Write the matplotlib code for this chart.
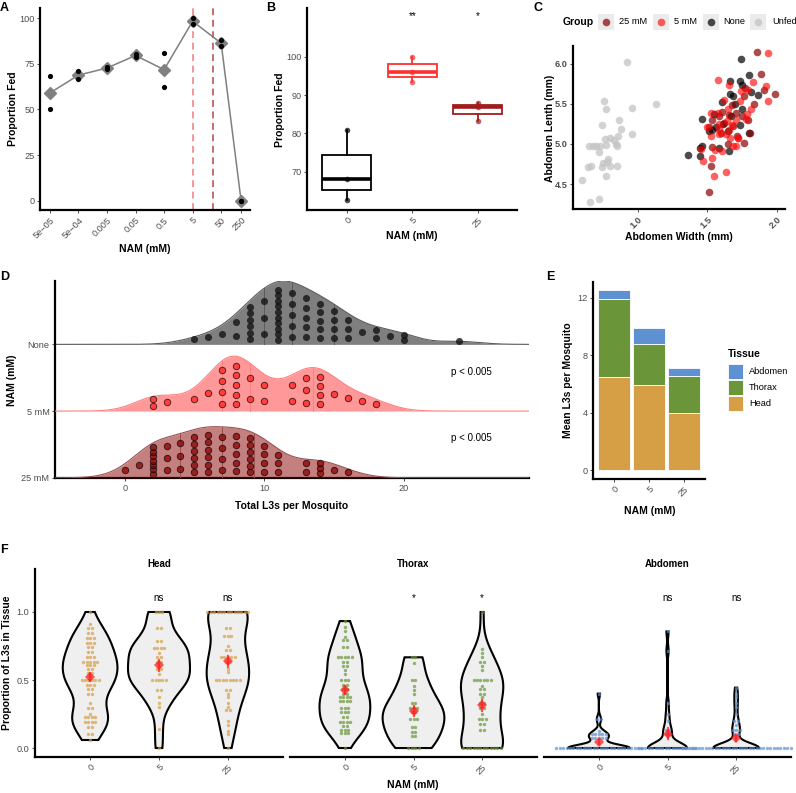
import numpy as np
import matplotlib
matplotlib.use('Agg')
import matplotlib.pyplot as plt
from matplotlib.patches import Rectangle

plt.rcParams['font.family'] = ['Liberation Sans', 'DejaVu Sans']
plt.rcParams['axes.unicode_minus'] = True

# ---------------- DATA ----------------
# Panel A
nam_conc = [5e-05, 5e-04, 0.005, 0.05, 0.5, 5, 50, 250]
nam_labels = ['5e\u221205', '5e\u221204', '0.005', '0.05', '0.5', '5', '50', '250']
fed_rep1 = [68, 71, 73, 80.5, 81, 100, 88, 0]
fed_rep2 = [50, 66.5, 72.3, 78.5, 62.5, 96.5, 84.5, 0]
dose_lines = [5, 25]

# Panel B
b_groups = ['0', '5', '25']
b_vals = [[62.6, 68, 80.9], [93.4, 96.1, 100], [83.3, 86.8, 88]]
b_sig = ['', '**', '*']

# Panel C  (abdomen width, abdomen length)
unfed_w = [0.924, 1.131, 0.755, 0.771, 0.957, 0.867, 0.743, 0.883, 0.96, 0.86, 0.805, 0.769, 0.83, 0.843,
           0.776, 0.733, 0.70, 0.65, 0.68, 0.85, 0.724, 0.786, 0.748, 0.781, 0.855, 0.664, 0.645, 0.745,
           0.80, 0.774, 0.602, 0.66, 0.726]
unfed_l = [6.025, 5.5, 5.53, 5.44, 5.45, 5.30, 5.24, 5.19, 5.13, 5.10, 5.08, 5.06, 5.05, 5.0,
           4.99, 4.97, 4.98, 4.97, 4.98, 4.98, 4.90, 4.81, 4.76, 4.78, 4.73, 4.73, 4.71, 4.71,
           4.72, 4.60, 4.55, 4.28, 4.31]
none_w = [1.738, 1.798, 1.662, 1.731, 1.664, 1.686, 1.864, 1.605, 1.695, 1.548, 1.46, 1.667, 1.614, 1.733,
          1.80, 1.564, 1.512, 1.464, 1.45, 1.586, 1.655, 1.362, 1.445, 1.75, 1.81, 1.75, 1.645, 1.53]
none_l = [6.06, 5.86, 5.79, 5.78, 5.62, 5.60, 5.61, 5.52, 5.50, 5.375, 5.31, 5.35, 5.25, 5.23,
          5.14, 5.21, 5.16, 4.98, 4.95, 4.95, 4.91, 4.86, 4.85, 5.43, 5.65, 5.73, 5.16, 5.18]
mm5_w = [1.933, 1.574, 1.655, 1.831, 1.919, 1.743, 1.788, 1.938, 1.617, 1.731, 1.814, 1.65, 1.526, 1.574,
         1.707, 1.64, 1.583, 1.50, 1.655, 1.583, 1.662, 1.721, 1.631, 1.707, 1.72, 1.457, 1.555, 1.607,
         1.536, 1.471, 1.55, 1.636, 1.686, 1.774, 1.786, 1.581, 1.679, 1.524]
mm5_l = [6.13, 5.80, 5.73, 5.77, 5.72, 5.66, 5.67, 5.54, 5.55, 5.53, 5.43, 5.43, 5.39, 5.38,
         5.30, 5.28, 5.25, 5.21, 5.18, 5.12, 5.08, 5.08, 5.13, 4.98, 5.07, 4.94, 4.93, 4.91,
         4.83, 4.79, 4.60, 4.65, 4.97, 5.31, 5.375, 5.19, 5.24, 5.10]
mm25_w = [1.855, 1.883, 1.907, 1.983, 1.769, 1.833, 1.762, 1.607, 1.679, 1.745, 1.793, 1.683, 1.621,
          1.512, 1.536, 1.595, 1.805, 1.762, 1.645, 1.531, 1.529, 1.512, 1.714, 1.655, 1.702, 1.583]
mm25_l = [6.15, 5.87, 5.67, 5.62, 5.70, 5.50, 5.60, 5.40, 5.48, 5.35, 5.30, 5.22, 5.26,
          5.21, 5.30, 5.14, 5.14, 5.01, 5.0, 4.96, 4.73, 4.40, 5.10, 5.36, 5.39, 5.35]

# Panel D  (total L3s per mosquito)
none_l3 = [5, 6, 7, 8, 8, 9, 9, 9, 9, 9, 9, 10, 10, 10, 11, 11, 11, 11, 11, 11, 11, 11, 11, 11,
           12, 12, 12, 12, 12, 13, 13, 13, 13, 13, 14, 14, 14, 14, 14, 15, 15, 15, 15, 16, 16, 16,
           17, 18, 18, 19, 20, 20, 24]
mm5_l3 = [2, 2, 3, 5, 6, 7, 7, 7, 7, 8, 8, 8, 8, 8, 9, 9, 10, 10, 12, 12, 13, 13, 13, 14, 14, 14, 14,
          15, 16, 17, 18]
mm25_l3 = [0, 1, 2, 2, 2, 2, 2, 2, 2, 3, 3, 3, 4, 4, 4, 5, 5, 5, 5, 5, 5, 6, 6, 6, 6, 6, 6, 7, 7, 7, 7,
           8, 8, 8, 8, 8, 9, 9, 9, 9, 9, 9, 10, 10, 10, 10, 11, 11, 11, 13, 13, 14, 14, 14, 15, 16]
d_labels = ['25 mM', '5 mM', 'None']
d_pvals = ['p < 0.005', 'p < 0.005', '']

# Panel E  (mean L3s per mosquito by tissue)
e_groups = ['0', '5', '25']
e_head = [6.45, 5.96, 4.01]
e_thorax = [5.45, 2.83, 2.51]
e_abdomen = [0.63, 1.09, 0.58]

# Panel F  (proportion of L3s in tissue)
head_0 = [1.0, 0.909, 0.889, 0.875, 0.857, 0.833, 0.818, 0.8, 0.8, 0.778, 0.778, 0.769, 0.75, 0.733,
          0.714, 0.7, 0.667, 0.667, 0.667, 0.647, 0.636, 0.625, 0.625, 0.625, 0.615, 0.6, 0.6, 0.588,
          0.571, 0.556, 0.545, 0.5, 0.5, 0.5, 0.5, 0.5, 0.5, 0.474, 0.462, 0.455, 0.444, 0.429, 0.4,
          0.4, 0.333, 0.3, 0.286, 0.25, 0.235, 0.222, 0.222, 0.214, 0.2, 0.2, 0.2, 0.188, 0.167,
          0.143, 0.111, 0.091, 0.059]
head_5 = [1.0, 1.0, 1.0, 0.889, 0.875, 0.8, 0.778, 0.75, 0.75, 0.75, 0.727, 0.7, 0.667, 0.667, 0.643,
          0.625, 0.6, 0.588, 0.571, 0.545, 0.5, 0.5, 0.5, 0.5, 0.5, 0.429, 0.429, 0.375, 0.333, 0.3,
          0.143, 0.0]
head_25 = [1.0, 1.0, 1.0, 1.0, 1.0, 1.0, 1.0, 1.0, 1.0, 1.0, 1.0, 1.0, 1.0, 0.889, 0.875, 0.833,
           0.833, 0.818, 0.75, 0.727, 0.714, 0.667, 0.667, 0.667, 0.667, 0.667, 0.647, 0.625, 0.583,
           0.556, 0.5, 0.5, 0.5, 0.5, 0.5, 0.5, 0.5, 0.5, 0.429, 0.429, 0.4, 0.375, 0.333, 0.3, 0.286,
           0.273, 0.2, 0.167, 0.125, 0.1, 0.0]
thorax_0 = [0.933, 0.889, 0.857, 0.818, 0.8, 0.786, 0.75, 0.733, 0.667, 0.667, 0.667, 0.667, 0.667,
            0.636, 0.625, 0.6, 0.6, 0.571, 0.545, 0.5, 0.5, 0.5, 0.467, 0.455, 0.444, 0.429, 0.4, 0.4,
            0.385, 0.375, 0.375, 0.364, 0.357, 0.333, 0.333, 0.333, 0.308, 0.3, 0.286, 0.273, 0.25,
            0.25, 0.235, 0.222, 0.2, 0.2, 0.188, 0.182, 0.167, 0.154, 0.143, 0.125, 0.125, 0.118,
            0.111, 0.1, 0.0]
thorax_5 = [0.667, 0.667, 0.625, 0.5, 0.5, 0.455, 0.429, 0.4, 0.333, 0.333, 0.3, 0.286, 0.286, 0.273,
            0.25, 0.222, 0.2, 0.2, 0.167, 0.143, 0.125, 0.111, 0.1, 0.077, 0.0, 0.0, 0.0, 0.0]
thorax_25 = [1.0, 0.727, 0.7, 0.667, 0.636, 0.625, 0.6, 0.571, 0.5, 0.5, 0.5, 0.5, 0.5, 0.5, 0.455,
             0.444, 0.429, 0.4, 0.4, 0.375, 0.333, 0.333, 0.3, 0.286, 0.25, 0.222, 0.2, 0.2, 0.182,
             0.167, 0.143, 0.125, 0.0, 0.0, 0.0, 0.0, 0.0, 0.0, 0.0, 0.0, 0.0, 0.0, 0.0, 0.0]
abdomen_0 = [0.4, 0.222, 0.2, 0.125, 0.111, 0.111, 0.1, 0.1, 0.091, 0.083, 0.077, 0.071, 0.067, 0.0625,
             0.0, 0.0, 0.0, 0.0, 0.0, 0.0, 0.0, 0.0, 0.0, 0.0, 0.0, 0.0, 0.0, 0.0, 0.0, 0.0, 0.0, 0.0,
             0.0, 0.0, 0.0, 0.0, 0.0, 0.0, 0.0, 0.0]
abdomen_5 = [0.857, 0.714, 0.333, 0.25, 0.2, 0.143, 0.125, 0.111, 0.1, 0.0, 0.0, 0.0, 0.0, 0.0, 0.0,
             0.0, 0.0, 0.0, 0.0, 0.0, 0.0, 0.0, 0.0, 0.0, 0.0, 0.0, 0.0]
abdomen_25 = [0.444, 0.4, 0.375, 0.333, 0.3, 0.25, 0.2, 0.2, 0.167, 0.143, 0.143, 0.125, 0.111, 0.1,
              0.0, 0.0, 0.0, 0.0, 0.0, 0.0, 0.0, 0.0, 0.0, 0.0, 0.0, 0.0, 0.0, 0.0, 0.0, 0.0, 0.0,
              0.0, 0.0, 0.0, 0.0, 0.0, 0.0, 0.0, 0.0, 0.0, 0.0, 0.0, 0.0, 0.0, 0.0, 0.0, 0.0]
f_tissues = ['Head', 'Thorax', 'Abdomen']
f_groups = ['0', '5', '25']
f_sig = [['', 'ns', 'ns'], ['', '*', '*'], ['', 'ns', 'ns']]

# ---------------- STYLE ----------------
W, H = 796, 793
fig = plt.figure(figsize=(W / 100, H / 100), dpi=100)
TICK_C = '#4d4d4d'
TS = 6.6
AX_T = 7.5

col_5 = '#ff1a1a'
col_25 = '#8b0000'
tissue_cols = {'Head': '#d69e45', 'Thorax': '#6a9538', 'Abdomen': '#5e91d2'}


def ax_px(l, t, r, b):
    return fig.add_axes([l / W, 1 - b / H, (r - l) / W, (b - t) / H])


def style(ax, left=True):
    for s in ['top', 'right']:
        ax.spines[s].set_visible(False)
    ax.spines['bottom'].set_linewidth(1.6)
    ax.spines['left'].set_linewidth(1.6)
    if not left:
        ax.spines['left'].set_visible(False)
        ax.tick_params(axis='y', left=False, labelleft=False)
    ax.tick_params(labelsize=TS, labelcolor=TICK_C, color='#333333', length=2.5, width=0.6, pad=1.5)
    ax.patch.set_alpha(0)


def bw_nrd0(x):
    x = np.asarray(x, float)
    hi = np.std(x, ddof=1)
    iqr = np.percentile(x, 75) - np.percentile(x, 25)
    lo = min(hi, iqr / 1.34)
    if lo == 0:
        lo = hi if hi > 0 else (abs(x[0]) if x[0] != 0 else 1.0)
    return 0.9 * lo * len(x) ** (-0.2)


def kde(x, grid, bw):
    x = np.asarray(x, float)
    z = (grid[:, None] - x[None, :]) / bw
    return np.exp(-0.5 * z ** 2).sum(axis=1) / (len(x) * bw * np.sqrt(2 * np.pi))


# ---------------- Panel A ----------------
axA = ax_px(40, 8, 250, 210)
style(axA)
axA.set_xscale('log')
axA.set_xlim(10 ** -4.65, 10 ** 2.71)
axA.set_ylim(-5.1, 105.5)
for xv, c in zip(dose_lines, ['#f07a7a', '#b04848']):
    axA.axvline(xv, color=c, ls=(0, (4.5, 3)), lw=1.1, zorder=1)
fed_mean = (np.array(fed_rep1) + np.array(fed_rep2)) / 2
axA.plot(nam_conc, fed_mean, color='#7f7f7f', lw=1.1, marker='D', ms=6.5, mfc='#808080', mec='#808080', zorder=3)
axA.scatter(nam_conc + nam_conc, fed_rep1 + fed_rep2, s=14, color='black', zorder=4, linewidths=0)
axA.minorticks_off()
axA.set_xticks(nam_conc)
axA.set_xticklabels(nam_labels, rotation=45, ha='right', rotation_mode='anchor')
axA.set_yticks([0, 25, 50, 75, 100])

# ---------------- Panel B ----------------
axB = ax_px(307, 8, 517, 210)
style(axB)
b_cols = ['black', '#ff3030', '#a01c1c']
for i, (vals, c) in enumerate(zip(b_vals, b_cols)):
    bp = axB.boxplot([vals], positions=[i], widths=0.75, showfliers=False, showcaps=False,
                     patch_artist=True, manage_ticks=False)
    for bx in bp['boxes']:
        bx.set(facecolor='white', edgecolor=c, linewidth=1.3)
    for wk in bp['whiskers']:
        wk.set(color=c, linewidth=1.3)
    for md in bp['medians']:
        md.set(color=c, linewidth=2.6)
    axB.scatter([i] * len(vals), vals, s=16, color=c, alpha=0.7, zorder=5, linewidths=0)
    axB.text(i, 110.8, b_sig[i], ha='center', va='center', fontsize=7)
axB.set_xlim(-0.61, 2.6)
axB.set_ylim(60, 112.8)
axB.set_xticks(range(3))
axB.set_xticklabels(b_groups, rotation=45, ha='right', rotation_mode='anchor')
axB.set_yticks([70, 80, 90, 100])

# ---------------- Panel C ----------------
axC = ax_px(573, 46, 785, 209)
style(axC)
c_sets = [('Unfed', unfed_w, unfed_l, '#c4c4c4', 0.75),
          ('None', none_w, none_l, '#000000', 0.7),
          ('25 mM', mm25_w, mm25_l, col_25, 0.7),
          ('5 mM', mm5_w, mm5_l, '#ff0000', 0.62)]
for name, xw, yl, c, a in c_sets:
    axC.scatter(xw, yl, s=30, color=c, alpha=a, linewidths=0)
axC.set_xlim(0.536, 2.057)
axC.set_ylim(4.19, 6.22)
axC.set_xticks([1.0, 1.5, 2.0])
axC.set_xticklabels(['1.0', '1.5', '2.0'], rotation=45, ha='right', rotation_mode='anchor', fontweight='bold')
axC.set_yticks([4.5, 5.0, 5.5, 6.0])
axC.set_yticklabels(['4.5', '5.0', '5.5', '6.0'], fontweight='bold')

# ---------------- Panel D ----------------
axD = ax_px(55, 281, 529, 478.3)
style(axD)
d_sets = [mm25_l3, mm5_l3, none_l3]
d_fill = [(col_25, 0.5), ('#ff3333', 0.5), ('#000000', 0.5)]
d_line = ['#9a5050', '#ff8080', '#5a5a5a']
d_pt = [(col_25, 'black'), ('#ff2020', 'black'), ('#111111', 'none')]
all_l3 = np.concatenate([np.array(s, float) for s in d_sets])
bw_d = bw_nrd0(all_l3)
xlo, xhi = -5, 29
grid = np.linspace(xlo, xhi, 600)
dens = [kde(s, grid, bw_d) for s in d_sets]
dmax = max(d.max() for d in dens)
scale = 0.95
for k in [2, 1, 0]:
    s = np.array(d_sets[k], float)
    h = dens[k] / dmax * scale
    zb = (2 - k) * 3
    axD.fill_between(grid, k, k + h, color=d_fill[k][0], alpha=d_fill[k][1], lw=0, zorder=zb + 1)
    axD.plot(grid, k + h, color=d_line[k], lw=0.8, zorder=zb + 1.5)
    for q in np.percentile(s, [25, 50, 75]):
        hq = np.interp(q, grid, h)
        axD.plot([q, q], [k, k + hq], color=d_line[k], lw=0.7, zorder=zb + 1.6)
    # stacked point positions inside the ridge
    px, py = [], []
    for v in np.unique(s):
        n = int((s == v).sum())
        hv = np.interp(v, grid, h)
        for j in range(n):
            frac = (j + 0.5) / n
            px.append(v)
            py.append(k + 0.03 + frac * 0.88 * hv)
    fc, ec = d_pt[k]
    if ec == 'none':
        axD.scatter(px, py, s=26, color=fc, alpha=0.78, linewidths=0, zorder=zb + 2)
    else:
        axD.scatter(px, py, s=22, facecolor=fc, alpha=0.75, edgecolor=ec, linewidths=0.6, zorder=zb + 2)
    if d_pvals[k]:
        axD.text(24.9, k + 0.59, d_pvals[k], ha='center', va='center', fontsize=7, zorder=20)
axD.set_xlim(xlo, xhi)
axD.set_ylim(-0.008, 2.95)
axD.set_yticks([0, 1, 2])
axD.set_yticklabels(d_labels)
axD.set_xticks([0, 10, 20])

# ---------------- Panel E ----------------
axE = ax_px(593, 282, 705, 479)
style(axE)
xe = np.arange(len(e_groups))
bot = np.zeros(3)
for name, vals in [('Head', e_head), ('Thorax', e_thorax), ('Abdomen', e_abdomen)]:
    axE.bar(xe, vals, bottom=bot, width=0.9, color=tissue_cols[name], edgecolor='white', linewidth=0.6)
    bot = bot + np.array(vals)
axE.set_xlim(-0.6, 2.6)
axE.set_ylim(-0.62, 13.1)
axE.set_xticks(xe)
axE.set_xticklabels(e_groups, rotation=45, ha='right', rotation_mode='anchor')
axE.set_yticks([0, 4, 8, 12])

# ---------------- Panel F ----------------
f_data = [[head_0, head_5, head_25], [thorax_0, thorax_5, thorax_25], [abdomen_0, abdomen_5, abdomen_25]]
f_px = [(35, 283), (290, 537), (544, 791)]
binw = 0.025
for ti, tissue in enumerate(f_tissues):
    l, r = f_px[ti]
    ax = ax_px(l, 569, r, 757)
    style(ax, left=(ti == 0))
    ax.set_xlim(-0.8, 2.8)
    ax.set_ylim(-0.066, 1.316)
    px_per_unit = (r - l) / 3.6
    dot_px = binw * (188 / 1.382)
    dx = dot_px / px_per_unit
    groups = [np.array(v, float) for v in f_data[ti]]
    dens_list = []
    for g in groups:
        gg = np.linspace(g.min(), g.max(), 512)
        dens_list.append((gg, kde(g, gg, bw_nrd0(g))))
    pmax = max(d.max() for _, d in dens_list)
    for gi, g in enumerate(groups):
        gg, d = dens_list[gi]
        hw = 0.45 * d / pmax
        xs = np.concatenate([gi + hw, (gi - hw)[::-1]])
        ys = np.concatenate([gg, gg[::-1]])
        ax.fill(xs, ys, facecolor='#efefef', edgecolor='black', linewidth=1.5, zorder=1)
        # centred dot stacks
        v = np.sort(g)
        i = 0
        dxs, dys = [], []
        while i < len(v):
            j = i
            while j < len(v) and v[j] < v[i] + binw:
                j += 1
            cnt = j - i
            yc = (v[i] + v[j - 1]) / 2
            for m in range(cnt):
                dxs.append(gi + (m - (cnt - 1) / 2) * dx)
                dys.append(yc)
            i = j
        ax.scatter(dxs, dys, s=(dot_px * 0.72) ** 2, color=tissue_cols[tissue], alpha=0.7,
                   linewidths=0, zorder=2, clip_on=False)
        mu = g.mean()
        se = g.std(ddof=1) / np.sqrt(len(g))
        ax.plot([gi, gi], [mu - se, mu + se], color='#ff2020', alpha=0.75, lw=1.6, zorder=3)
        ax.plot([gi], [mu], marker='D', ms=5, color='#ff2020', alpha=0.75, mew=0, zorder=4)
        if f_sig[ti][gi]:
            ax.text(gi, 1.1, f_sig[ti][gi], ha='center', va='center', fontsize=7)
    ax.set_xticks(range(3))
    ax.set_xticklabels(f_groups, rotation=45, ha='right', rotation_mode='anchor')
    ax.set_yticks([0, 0.5, 1.0])
    ax.set_yticklabels(['0.0', '0.5', '1.0'])
    ax.text(0.5, 1.0, tissue, transform=ax.transAxes, ha='center', va='bottom', fontsize=7,
            fontweight='bold')

# ---------------- Overlay: titles, letters, legends ----------------
ov = fig.add_axes([0, 0, 1, 1])
ov.set_xlim(0, W)
ov.set_ylim(H, 0)
ov.axis('off')


def T(x, y, s, rot=0, size=AX_T, weight='bold', ha='center'):
    ov.text(x, y, s, rotation=rot, fontsize=size, fontweight=weight, ha=ha, va='center')


for x, y, s in [(0, 8, 'A'), (266, 8, 'B'), (534, 8, 'C'), (0, 277, 'D'), (546, 277, 'E'), (0, 550, 'F')]:
    T(x, y, s, size=9, ha='left')

T(13, 109, 'Proportion Fed', rot=90)
T(145, 249, 'NAM (mM)')
T(280, 110, 'Proportion Fed', rot=90)
T(412, 236, 'NAM (mM)')
T(550, 128, 'Abdomen Lenth (mm)', rot=90)
T(679, 237, 'Abdomen Width (mm)')
T(12, 380, 'NAM (mM)', rot=90)
T(292, 506, 'Total L3s per Mosquito')
T(568, 380, 'Mean L3s per Mosquito', rot=90)
T(650, 511, 'NAM (mM)')
T(7, 663, 'Proportion of L3s in Tissue', rot=90)
T(413, 785, 'NAM (mM)')

# Legend for C
T(563, 22, 'Group', size=7.5, ha='left')
leg_c = [('25 mM', col_25, 0.7, 606, 619), ('5 mM', '#ff0000', 0.62, 661, 674),
         ('None', '#000000', 0.7, 711, 723), ('Unfed', '#c4c4c4', 0.75, 758, 772)]
for lab, c, a, kx, tx in leg_c:
    ov.add_patch(Rectangle((kx - 8, 14), 16, 16, facecolor='#ebebeb', edgecolor='none'))
    ov.scatter([kx], [22], s=30, color=c, alpha=a, linewidths=0)
    T(tx, 22, lab, size=6.7, weight='normal', ha='left')

# Legend for E
T(728, 354, 'Tissue', size=7.5, ha='left')
for lab, yc in [('Abdomen', 371), ('Thorax', 387), ('Head', 403)]:
    ov.add_patch(Rectangle((728, yc - 7.5), 15, 15, facecolor=tissue_cols[lab], edgecolor='white', lw=0.6))
    T(749, yc, lab, size=6.7, weight='normal', ha='left')

fig.savefig('out.png', dpi=100)
